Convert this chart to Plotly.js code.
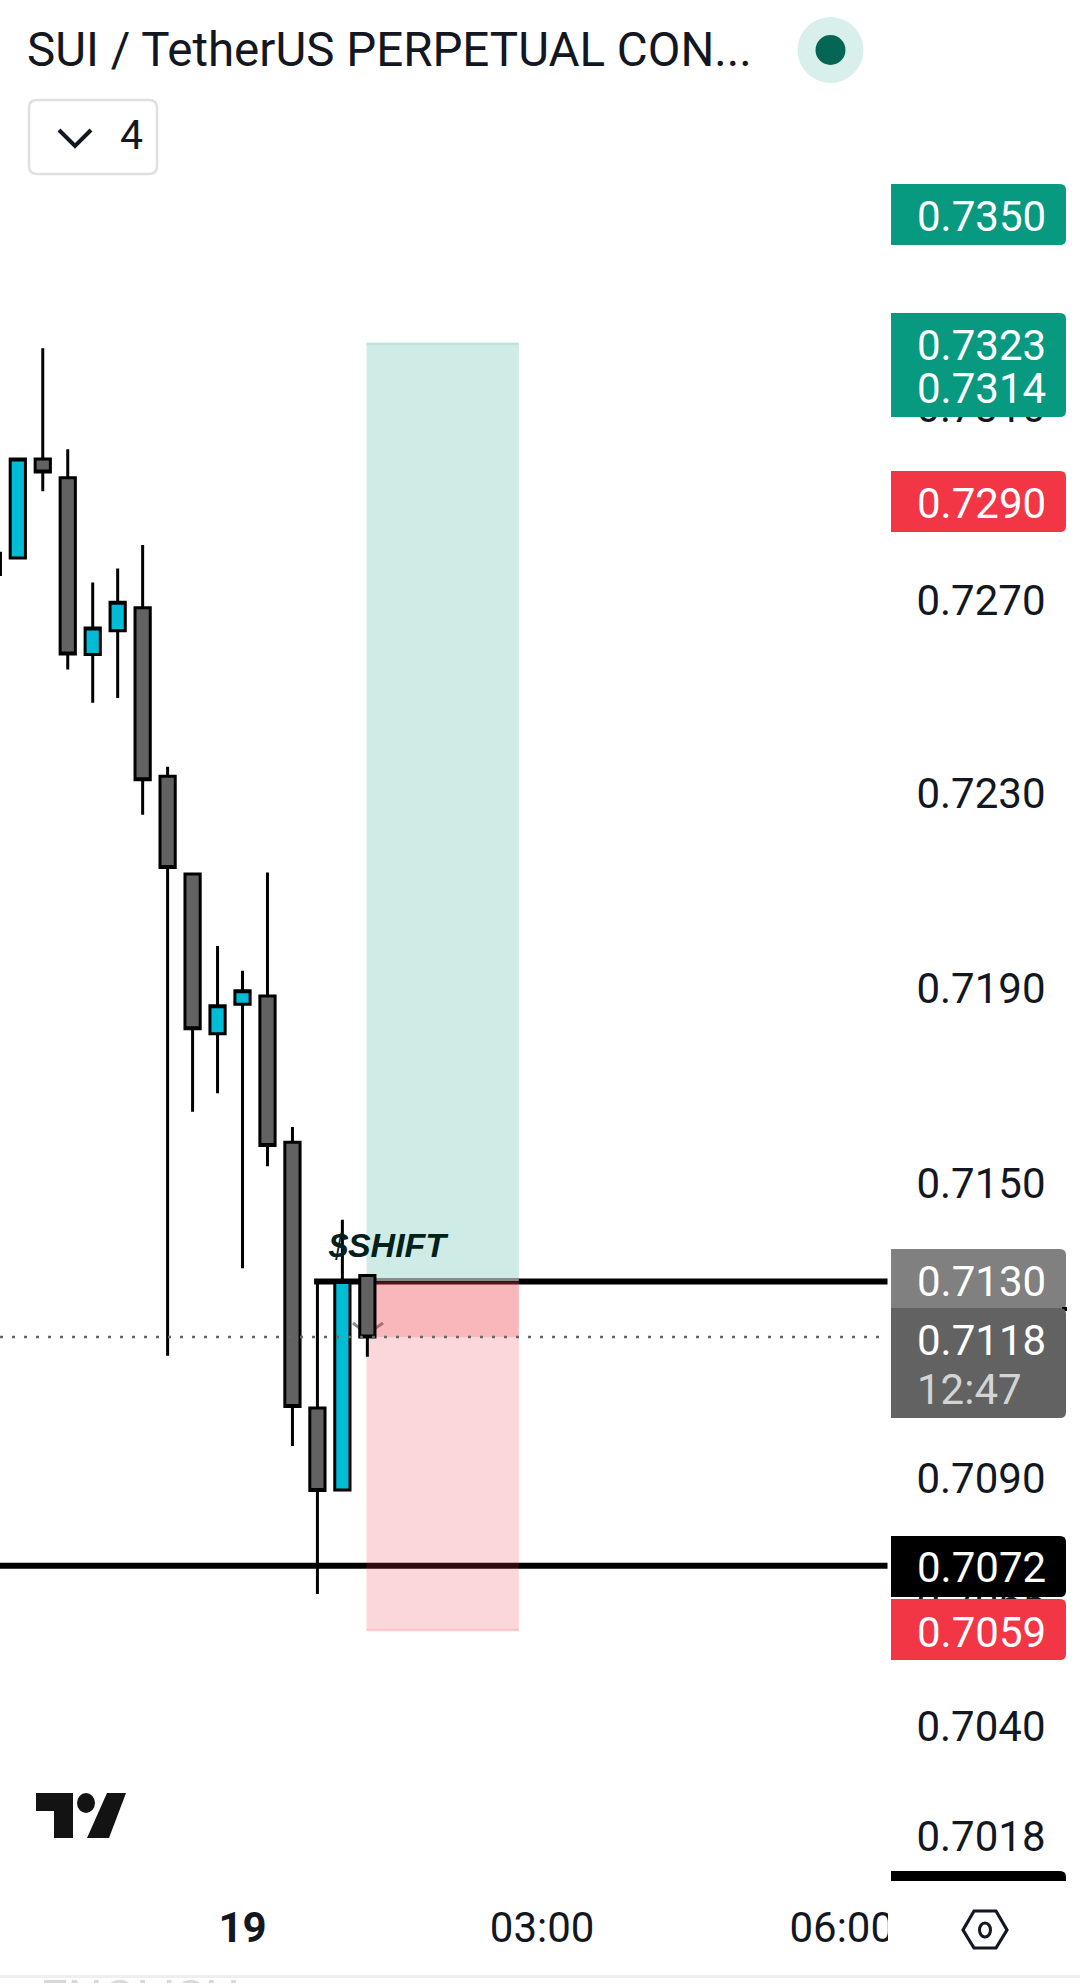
<!DOCTYPE html>
<html>
<head>
<meta charset="utf-8">
<script src="https://cdn.plot.ly/plotly-3.0.1.min.js"></script>
<style>html,body{margin:0;padding:0;background:#fff;overflow:hidden}#c{width:1080px;height:1983px}</style>
</head>
<body>
<div id="c"></div>
<script>
// ---- chart data ----
var times = ['2026-03-18 21:30','2026-03-18 21:45','2026-03-18 22:00','2026-03-18 22:15','2026-03-18 22:30','2026-03-18 22:45','2026-03-18 23:00','2026-03-18 23:15','2026-03-18 23:30','2026-03-18 23:45','2026-03-19 00:00','2026-03-19 00:15','2026-03-19 00:30','2026-03-19 00:45','2026-03-19 01:00','2026-03-19 01:15'];
var opens  = [0.72793,0.72783,0.72989,0.72950,0.72583,0.72632,0.72680,0.72331,0.72130,0.71802,0.71862,0.71879,0.71580,0.71039,0.70873,0.71308];
var highs  = [0.72793,0.72989,0.73220,0.73009,0.72732,0.72761,0.72810,0.72351,0.72133,0.71982,0.71931,0.72133,0.71611,0.71296,0.71422,0.71308];
var lows   = [0.72749,0.72783,0.72922,0.72552,0.72483,0.72493,0.72252,0.71145,0.71642,0.71680,0.71323,0.71531,0.70962,0.70663,0.70873,0.71143];
var closes = [0.72749,0.72989,0.72962,0.72584,0.72638,0.72691,0.72324,0.72143,0.71812,0.71859,0.71890,0.71573,0.71042,0.70872,0.71296,0.71183];

var axisTickPrices = ['0.7310','0.7270','0.7230','0.7190','0.7150','0.7090','0.7065','0.7040','0.7018'];
var timeTickVals = ['2026-03-19 00:00','2026-03-19 03:00','2026-03-19 06:00'];
var timeTickText = ['<b>19</b>','03:00','06:00'];

var targetTop = 0.7323, entryPrice = 0.71296, stopBottom = 0.7059, lastPrice = 0.71183, supportPrice = 0.70720;
var boxStart = '2026-03-19 01:14:30', boxEnd = '2026-03-19 02:46:00';
var entryLineStart = '2026-03-19 00:43:00';
var badgeLabels  = ['0.7350','0.7323','0.7314','0.7290','0.7130','0.7118','0.7072','0.7059'];
var countdown = '12:47';

// ---- frame and scale ----
var PW = 890, PH = 1881;
var K = 35050, P0 = 0.727, Y0 = 598;                // px per ln(price), anchor
function priceAt(y){ return P0*Math.exp((Y0-y)/K); }
function X(x){ return x/PW; }
function Y(y){ return 1-y/PH; }
function lg(p){ return Math.log10(p); }

function rrect(x0,y0,x1,y1,r,rl){
  rl = rl||0;
  return 'M'+X(x0+rl)+','+Y(y0)+' L'+X(x1-r)+','+Y(y0)+' Q'+X(x1)+','+Y(y0)+' '+X(x1)+','+Y(y0+r)+
    ' L'+X(x1)+','+Y(y1-r)+' Q'+X(x1)+','+Y(y1)+' '+X(x1-r)+','+Y(y1)+' L'+X(x0+rl)+','+Y(y1)+
    (rl?' Q'+X(x0)+','+Y(y1)+' '+X(x0)+','+Y(y1-rl)+' L'+X(x0)+','+Y(y0+rl)+' Q'+X(x0)+','+Y(y0)+' '+X(x0+rl)+','+Y(y0):' L'+X(x0)+','+Y(y0))+' Z';
}
function ell(cx,cy,rx,ry){
  return {type:'circle',xref:'paper',yref:'paper',layer:'above',x0:X(cx-rx),x1:X(cx+rx),y0:Y(cy+ry),y1:Y(cy-ry),line:{width:0}};
}
function poly(pts){
  return 'M'+pts.map(function(p){return X(p[0])+','+Y(p[1]);}).join(' L')+' Z';
}
function pathS(d,fill,lineColor,lw,layer){
  return {type:'path',xref:'paper',yref:'paper',layer:layer||'above',path:d,fillcolor:fill,line:{color:lineColor||'rgba(0,0,0,0)',width:lw||0}};
}
function box(p0,p1,color){
  return {type:'rect',xref:'x',yref:'y',layer:'below',x0:boxStart,x1:boxEnd,y0:p0,y1:p1,fillcolor:color,line:{width:0}};
}
function hline(x0,x1,p,color,w,layer,dash){
  return {type:'line',xref:'x',yref:'y',layer:layer||'below',x0:x0,x1:x1,y0:p,y1:p,line:{color:color,width:w,dash:dash||'solid'}};
}

var BX0=891, BX1=1066;
var TEAL='#089981', RED='#f23645';

var shapes = [
  // level lines sit under the translucent boxes
  hline(entryLineStart,'2026-03-19 06:27:30',entryPrice,'#000',6),
  hline('2026-03-18 21:34:18','2026-03-19 06:27:30',supportPrice,'#000',6),
  box(entryPrice,targetTop,'rgba(8,153,129,0.2)'),
  box(stopBottom,entryPrice,'rgba(242,54,69,0.2)'),
  box(lastPrice,entryPrice,'rgba(242,54,69,0.2)'),
  hline(boxStart,boxEnd,targetTop,'rgba(8,153,129,0.2)',2),
  hline(boxStart,boxEnd,stopBottom,'rgba(242,54,69,0.2)',2),
  hline(boxStart,boxEnd,priceAt(1279.5),'#8a8a8a',3),
  // small chevron behind the last candle
  {type:'path',xref:'paper',yref:'paper',layer:'below',path:'M'+X(353)+','+Y(1323)+' L'+X(367)+','+Y(1334)+' L'+X(383)+','+Y(1323),line:{color:'#8a8a8a',width:3}},
  // dotted last-price line above the candles
  hline('2026-03-18 21:34:18','2026-03-19 06:23',lastPrice,'#666',2.5,'above','3px,9px'),
  // hides the part of the time axis that runs under the price column
  {type:'rect',xref:'paper',yref:'paper',layer:'above',x0:X(888),x1:X(1080),y0:Y(1886),y1:Y(1965),fillcolor:'#fff',line:{width:0}},
  // price badges
  pathS(rrect(BX0,184,BX1,245,6),TEAL),
  pathS(rrect(BX0,313,BX1,417,6),TEAL),
  pathS(rrect(BX0,471,BX1,532,6),RED),
  pathS(rrect(BX0,1249,BX1,1310,6),'#808080'),
  pathS(poly([[1062,1307],[1067,1307],[1067,1311],[1062,1311]]),'#000'),
  pathS(rrect(BX0,1308,BX1,1418,6),'#626262'),
  pathS(rrect(BX0,1536,BX1,1597,6),'#000'),
  pathS(rrect(BX0,1599,BX1,1660,6),RED),
  pathS(rrect(BX0,1871,BX1,1895,6),'#000'),
  {type:'rect',xref:'paper',yref:'paper',layer:'above',x0:X(890),x1:X(1080),y0:Y(1881),y1:Y(1900),fillcolor:'#fff',line:{width:0}},
  // header
  Object.assign(ell(830.5,50,33,33),{fillcolor:'#d9efeb'}),
  Object.assign(ell(830.5,50,15,15),{fillcolor:'#056656'}),
  pathS(rrect(29,100,157,174,8,8),'#fff','#e0e0e0',2.5),
  {type:'path',xref:'paper',yref:'paper',layer:'above',path:'M'+X(59)+','+Y(130)+' L'+X(75)+','+Y(146)+' L'+X(91)+','+Y(130),line:{color:'#131722',width:4}},
  // logo
  pathS(poly([[36,1793],[73,1793],[73,1838],[54,1838],[54,1811],[36,1811]]),'#131313'),
  Object.assign(ell(86,1803,9,10),{fillcolor:'#131313'}),
  pathS(poly([[107,1793],[126,1793],[109,1838],[87,1838]]),'#131313'),
  // settings icon
  {type:'path',xref:'paper',yref:'paper',layer:'above',path:poly([[974,1911],[996,1911],[1007,1930],[996,1948],[974,1948],[963,1930]]),line:{color:'#131722',width:3.2}},
  Object.assign(ell(985,1930,5.5,7),{fillcolor:'rgba(0,0,0,0)',line:{color:'#131722',width:3}}),
  // footer strip
  {type:'rect',xref:'paper',yref:'paper',layer:'above',x0:0,x1:X(1080),y0:Y(1978),y1:Y(1975),fillcolor:'#efefef',line:{width:0}}
];

var F = 'Roboto, sans-serif';
function badgeText(txt,p,color){
  return {text:txt,xref:'paper',yref:'y',x:X(917),y:lg(p),yshift:-2,xanchor:'left',yanchor:'middle',showarrow:false,font:{family:F,size:42,color:color||'#fff'},borderpad:0,borderwidth:0};
}
var annotations = [
  badgeText(badgeLabels[0],0.7350),
  badgeText(badgeLabels[1],0.7323),
  badgeText(badgeLabels[2],0.7314),
  badgeText(badgeLabels[3],0.7290),
  badgeText(badgeLabels[4],0.7130),
  badgeText(badgeLabels[5],0.7118),
  badgeText(countdown,priceAt(1387),'#d4d4d4'),
  badgeText(badgeLabels[6],0.7072),
  badgeText(badgeLabels[7],0.7059),
  {text:'SUI / TetherUS PERPETUAL CON...',xref:'paper',yref:'paper',x:X(24.5),y:Y(50),xanchor:'left',yanchor:'middle',showarrow:false,font:{family:F,size:47.5,color:'#131722'}},
  {text:'4',xref:'paper',yref:'paper',x:X(131),y:Y(135),xanchor:'center',yanchor:'middle',showarrow:false,font:{family:F,size:41,color:'#131722'}},
  {text:'<b><i>$SHIFT</i></b>',xref:'x',yref:'y',x:'2026-03-19 01:28',y:lg(priceAt(1245)),xanchor:'center',yanchor:'middle',showarrow:false,font:{family:'Liberation Sans, Arial, sans-serif',size:34,color:'#04201c'}},
  {text:'ENGLISH',xref:'paper',yref:'paper',x:X(38),y:Y(1997),xanchor:'left',yanchor:'middle',showarrow:false,font:{family:F,size:49,color:'#d8d8d8'}}
];

var trace = {
  type:'candlestick', x:times, open:opens, high:highs, low:lows, close:closes,
  increasing:{fillcolor:'#00bcd4',line:{color:'#000',width:3}},
  decreasing:{fillcolor:'#626262',line:{color:'#000',width:3}},
  whiskerwidth:0, hoverinfo:'skip', showlegend:false
};

var layout = {
  width:1080, height:1983, autosize:false,
  margin:{l:0,r:1080-PW,t:0,b:1983-PH,pad:0},
  paper_bgcolor:'#fff', plot_bgcolor:'#fff', showlegend:false, boxgap:0.39, boxgroupgap:0,
  font:{family:F,color:'#131722'},
  xaxis:{type:'date',range:['2026-03-18 21:34:18','2026-03-19 06:29:00'],rangeslider:{visible:false},showgrid:false,zeroline:false,showline:false,
    tickmode:'array',tickvals:timeTickVals,ticktext:timeTickText,ticks:'outside',ticklen:10,tickcolor:'rgba(0,0,0,0)',tickfont:{family:F,size:42,color:'#131722'},fixedrange:true},
  yaxis:{type:'log',side:'right',range:[lg(priceAt(PH)),lg(priceAt(0))],showgrid:false,zeroline:false,showline:false,
    tickmode:'array',tickvals:axisTickPrices.map(Number),ticktext:axisTickPrices,ticks:'outside',ticklen:17,ticklabelshift:2,tickcolor:'rgba(0,0,0,0)',tickfont:{family:F,size:42,color:'#131722'},fixedrange:true},
  shapes:shapes, annotations:annotations
};
Plotly.newPlot('c',[trace],layout,{displayModeBar:false,staticPlot:true});
</script>
</body>
</html>
